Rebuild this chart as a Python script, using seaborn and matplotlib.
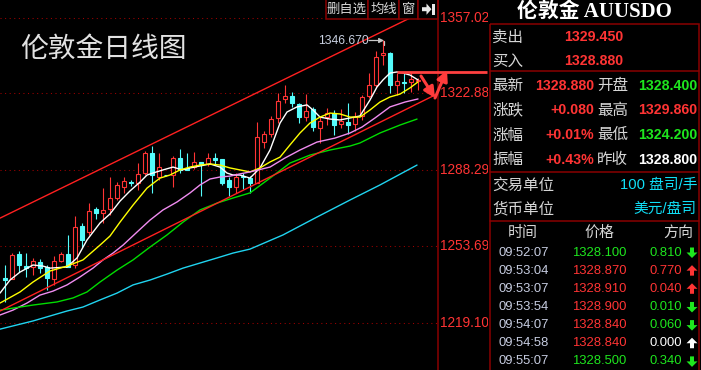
import matplotlib
matplotlib.use("Agg")
import matplotlib.pyplot as plt
import seaborn as sns
import pandas as pd
from matplotlib.patches import Rectangle, Polygon

# ------------------------------------------------------------------ data
candle_open = [1239.2, 1238.8, 1250.1, 1244.6, 1244.2, 1246.5, 1244.2, 1238.8, 1246.9, 1250.1,
               1245.1, 1262.7, 1260.0, 1270.4, 1268.6, 1270.4, 1275.4, 1280.4, 1282.6, 1282.2,
               1286.7, 1295.8, 1284.9, 1285.8, 1285.8, 1293.5, 1289.0, 1289.4, 1291.7, 1290.8,
               1293.5, 1293.0, 1283.5, 1280.4, 1285.3, 1284.4, 1282.2, 1300.7, 1304.3, 1311.6,
               1320.2, 1321.5, 1317.9, 1312.0, 1315.7, 1307.1, 1312.0, 1313.8, 1308.9, 1309.8,
               1308.9, 1312.5, 1321.5, 1326.5, 1340.1, 1341.0, 1326.5, 1327.9, 1327.9, 1328.4]
candle_close = [1238.3, 1249.6, 1245.1, 1243.7, 1246.9, 1243.7, 1239.2, 1246.9, 1250.1, 1244.2,
                1262.3, 1256.4, 1269.5, 1268.6, 1270.0, 1275.4, 1281.3, 1283.1, 1282.2, 1286.3,
                1295.8, 1285.8, 1289.4, 1285.6, 1293.5, 1288.1, 1288.1, 1291.7, 1290.3, 1293.5,
                1292.6, 1282.2, 1280.4, 1284.9, 1284.9, 1282.2, 1303.0, 1304.3, 1311.1, 1319.3,
                1321.5, 1318.4, 1312.0, 1314.7, 1307.5, 1310.2, 1313.8, 1308.4, 1310.2, 1308.4,
                1312.0, 1321.1, 1326.5, 1339.2, 1341.0, 1326.5, 1328.3, 1327.4, 1329.2, 1328.88]
candle_high = [1245.1, 1250.5, 1251.4, 1250.5, 1248.3, 1247.8, 1245.1, 1249.2, 1251.0, 1258.7,
               1267.3, 1264.1, 1273.1, 1271.3, 1279.9, 1284.9, 1282.6, 1284.9, 1283.5, 1291.2,
               1296.7, 1298.9, 1295.8, 1285.8, 1294.4, 1297.6, 1295.8, 1296.2, 1291.7, 1295.8,
               1295.8, 1293.0, 1284.9, 1286.7, 1286.7, 1285.3, 1309.8, 1305.7, 1312.5, 1322.9,
               1326.5, 1323.3, 1318.4, 1322.4, 1316.6, 1312.0, 1316.1, 1315.2, 1315.7, 1318.4,
               1314.3, 1322.0, 1331.9, 1341.9, 1346.67, 1341.4, 1331.9, 1331.9, 1331.9, 1329.86]
candle_low = [1228.4, 1238.8, 1241.9, 1239.7, 1240.6, 1241.5, 1233.8, 1236.1, 1246.5, 1244.2,
              1243.7, 1252.8, 1258.7, 1265.9, 1264.1, 1267.7, 1274.5, 1277.7, 1280.8, 1279.0,
              1285.8, 1277.7, 1283.5, 1285.3, 1280.4, 1286.7, 1288.1, 1288.5, 1276.3, 1289.9,
              1290.3, 1281.3, 1276.3, 1277.7, 1279.5, 1277.7, 1282.2, 1298.0, 1303.0, 1309.3,
              1318.4, 1316.6, 1309.3, 1310.2, 1305.7, 1300.3, 1308.4, 1303.9, 1307.1, 1304.3,
              1305.7, 1310.7, 1320.6, 1325.6, 1335.6, 1322.9, 1322.0, 1322.9, 1323.3, 1324.2]

grid_prices = [1357.026, 1322.886, 1288.292, 1253.698, 1219.103]
grid_labels = ["1357.026", "1322.886", "1288.292", "1253.698", "1219.103"]

ma5_idx = [-0.71, 0.71, 2.14, 4.0, 5.43, 6.43, 8.86, 10.29, 11.71, 13.57, 15.0, 16.43, 17.86, 19.29,
           20.29, 21.14, 22.57, 24.0, 25.29, 26.43, 27.86, 29.29, 30.71, 31.71, 32.57, 33.57, 35.0,
           36.43, 37.86, 39.29, 40.29, 41.71, 43.14, 44.0, 45.0, 46.43, 47.86, 49.29, 50.71, 52.14,
           53.14, 54.0, 55.0, 56.0, 56.86, 57.86, 59.0]
ma5_val = [1232.4, 1238.3, 1241.9, 1245.1, 1244.6, 1243.7, 1244.2, 1248.3, 1256.4, 1264.1, 1268.2,
           1274.0, 1278.6, 1282.6, 1285.8, 1286.7, 1288.1, 1289.4, 1288.1, 1289.0, 1289.9, 1290.8,
           1289.4, 1286.7, 1285.8, 1285.8, 1284.4, 1289.0, 1297.1, 1309.3, 1314.3, 1316.6, 1317.5,
           1315.2, 1312.0, 1311.1, 1310.7, 1311.6, 1312.5, 1319.7, 1325.6, 1328.8, 1331.9, 1332.4,
           1331.9, 1331.0, 1328.8]
ma10_idx = [-0.71, 2.14, 4.0, 6.43, 8.86, 11.14, 13.57, 15.0, 16.43, 18.29, 20.29, 22.14, 23.57, 25.0,
            26.43, 27.86, 29.29, 30.71, 32.14, 33.57, 35.0, 36.43, 37.86, 39.29, 40.71, 42.14, 43.57,
            45.0, 46.43, 47.86, 49.29, 50.71, 52.14, 53.57, 55.0, 56.43, 57.86, 59.0]
ma10_val = [1227.9, 1232.9, 1237.4, 1242.4, 1244.6, 1247.4, 1254.1, 1258.2, 1264.5, 1272.2, 1279.9,
            1284.4, 1285.8, 1288.1, 1289.4, 1290.3, 1290.8, 1290.3, 1289.0, 1288.1, 1287.2, 1289.0,
            1291.7, 1293.9, 1299.4, 1304.8, 1309.3, 1312.0, 1313.8, 1313.4, 1312.0, 1312.0, 1315.2,
            1318.8, 1321.1, 1322.4, 1325.2, 1327.9]
ma20_idx = [-0.71, 1.14, 3.14, 5.0, 6.86, 8.86, 10.71, 12.57, 14.0, 15.43, 16.86, 18.86, 20.71, 22.57,
            24.57, 26.43, 27.86, 29.29, 30.71, 32.14, 33.57, 35.0, 37.86, 40.0, 42.14, 44.57, 47.14,
            49.29, 51.0, 52.86, 55.0, 57.14, 59.0]
ma20_val = [1222.5, 1224.7, 1227.9, 1231.5, 1233.3, 1236.1, 1239.7, 1243.7, 1247.4, 1250.5, 1254.1,
            1260.0, 1265.4, 1270.0, 1273.6, 1277.7, 1281.3, 1284.0, 1284.9, 1285.3, 1286.3, 1287.2,
            1289.4, 1293.5, 1297.1, 1300.7, 1302.5, 1304.8, 1307.5, 1311.6, 1316.6, 1318.8, 1320.2]
ma30_idx = [-0.71, 4.0, 7.43, 9.71, 11.71, 13.57, 16.0, 18.29, 20.71, 23.14, 25.43, 27.86, 30.29,
            32.57, 35.0, 37.86, 40.71, 43.57, 46.43, 49.29, 50.71, 53.57, 56.43, 58.86]
ma30_val = [1224.7, 1227.0, 1228.4, 1230.2, 1232.9, 1237.4, 1242.8, 1247.4, 1253.2, 1258.7, 1264.5,
            1270.0, 1273.1, 1275.4, 1277.7, 1284.4, 1291.2, 1294.8, 1297.1, 1298.9, 1300.3, 1304.8,
            1308.4, 1311.1]
ma60_idx = [-0.71, 4.0, 8.86, 11.14, 13.57, 16.0, 18.29, 20.71, 23.14, 25.43, 27.86, 30.29, 32.57,
            35.0, 39.71, 44.57, 49.29, 53.57, 58.86]
ma60_val = [1216.1, 1219.8, 1224.3, 1226.1, 1229.3, 1232.4, 1236.1, 1238.3, 1241.0, 1243.7, 1246.0,
            1248.3, 1250.5, 1252.3, 1258.7, 1266.8, 1274.5, 1281.3, 1290.3]

upper_line_idx = [-0.71, 57.86]
upper_line_val = [1266.3, 1356.8]
lower_line_idx = [-0.71, 61.43]
lower_line_val = [1224.3, 1322.0]

peak_label = "1346.670"
chart_title = "伦敦金日线图"
toolbar_buttons = ["删自选", "均线", "窗"]

quote_title = "伦敦金 AUUSDO"
bid_rows = [("卖出", "1329.450"), ("买入", "1328.880")]
stat_left_labels = ["最新", "涨跌", "涨幅", "振幅"]
stat_left_values = ["1328.880", "+0.080", "+0.01%", "+0.43%"]
stat_right_labels = ["开盘", "最高", "最低", "昨收"]
stat_right_values = ["1328.400", "1329.860", "1324.200", "1328.800"]
stat_right_kind = ["down", "up", "down", "flat"]
unit_labels = ["交易单位", "货币单位"]
unit_values = ["100 盘司/手", "美元/盘司"]
tick_headers = ["时间", "价格", "方向"]
tick_times = ["09:52:07", "09:53:04", "09:53:07", "09:53:54", "09:54:07", "09:54:58", "09:55:07"]
tick_prices = [1328.100, 1328.870, 1328.910, 1328.900, 1328.840, 1328.840, 1328.500]
tick_changes = [0.810, 0.770, 0.040, 0.010, 0.060, 0.000, 0.340]
tick_dirs = ["down", "up", "up", "down", "down", "flat", "down"]
prev_close = 1328.800

# ------------------------------------------------------------------ style
sns.set_theme(style="dark")
plt.rcParams["font.family"] = ["Liberation Sans", "Noto Sans CJK SC", "DejaVu Sans"]
plt.rcParams["axes.unicode_minus"] = False

RED = "#ff3434"
CYAN_C = "#54fcfc"
GREEN = "#1ee61e"
DARKRED = "#8a0000"
TXT = "#d6d6d6"
KIND_COL = {"up": RED, "down": GREEN, "flat": "#ffffff"}

W, H = 701, 370
fig = plt.figure(figsize=(W / 100, H / 100), dpi=100, facecolor="black")

# ------------------------------------------------------------------ main chart
ax = fig.add_axes([0, 0, 437 / W, 1], zorder=0)
ax.set_facecolor("black")
ppu = (322.5 - 17.5) / (1357.026 - 1219.103)
ax.set_ylim(1322.886 - (H - 93) / ppu, 1322.886 + 93 / ppu)
ax.set_xlim(-5 / 7, (437 - 5) / 7)
for s in ax.spines.values():
    s.set_visible(False)
ax.grid(False)

for p in grid_prices:
    ax.axhline(p, color="#a00000", lw=0.75, ls=(0, (1, 3.4)), zorder=1)

idx = list(range(len(candle_open)))
cols = [RED if c >= o else CYAN_C for o, c in zip(candle_open, candle_close)]
faces = ["black" if c >= o else CYAN_C for o, c in zip(candle_open, candle_close)]
ax.vlines(idx, candle_low, candle_high, colors=cols, lw=0.8, zorder=2)
bottoms = [min(o, c) for o, c in zip(candle_open, candle_close)]
heights = [max(abs(c - o), 0.25) for o, c in zip(candle_open, candle_close)]
ax.bar(idx, heights, bottom=bottoms, width=0.62, color=faces, edgecolor=cols, lw=0.8, zorder=2.5)

ma_df = pd.concat([
    pd.DataFrame({"idx": ma5_idx, "price": ma5_val, "ma": "MA5"}),
    pd.DataFrame({"idx": ma10_idx, "price": ma10_val, "ma": "MA10"}),
    pd.DataFrame({"idx": ma20_idx, "price": ma20_val, "ma": "MA20"}),
    pd.DataFrame({"idx": ma30_idx, "price": ma30_val, "ma": "MA30"}),
    pd.DataFrame({"idx": ma60_idx, "price": ma60_val, "ma": "MA60"}),
], ignore_index=True)
ma_pal = {"MA5": "#ffffff", "MA10": "#ffff00", "MA20": "#f08cf0", "MA30": "#00dc00", "MA60": "#20d4f0"}
sns.lineplot(data=ma_df, x="idx", y="price", hue="ma", palette=ma_pal, estimator=None,
             sort=False, lw=1.0, legend=False, ax=ax, zorder=3)
trend_df = pd.concat([
    pd.DataFrame({"idx": upper_line_idx, "price": upper_line_val, "ln": "up"}),
    pd.DataFrame({"idx": lower_line_idx, "price": lower_line_val, "ln": "low"}),
], ignore_index=True)
sns.lineplot(data=trend_df, x="idx", y="price", hue="ln", palette={"up": "#ff2020", "low": "#ff2020"},
             estimator=None, sort=False, lw=1.0, legend=False, ax=ax, zorder=3)
ax.set_xlabel(""); ax.set_ylabel("")
ax.set_xticks([]); ax.set_yticks([])

for p, lab in zip(grid_prices, grid_labels):
    ax.text(440 / 437, p, lab, transform=ax.get_yaxis_transform(), color=RED, fontsize=9.8,
            va="center", ha="left", clip_on=False, zorder=5)

# ------------------------------------------------------------------ right quote panel
pn = fig.add_axes([488 / W, 0, (W - 488) / W, 1], zorder=2)
pn.set_facecolor("black")
pn.set_xlim(488, W); pn.set_ylim(H, 0)
pn.axis("off")
pn.add_patch(Rectangle((488, 0), W - 488, H, color="black", zorder=0))
pn.add_patch(Rectangle((490.5, 23.5), 208.5, 350, fill=False, ec=DARKRED, lw=1.1, zorder=1))
for yy in (71, 172, 221):
    pn.plot([490.5, 699], [yy, yy], color=DARKRED, lw=1.1, zorder=1)

pn.text(594, 11.5, quote_title, color="white", fontsize=15, fontweight="bold", ha="center",
        va="center", family=["Liberation Serif", "Noto Sans CJK SC"])

for k, (lab, val) in enumerate(bid_rows):
    y = 37 + 24 * k
    pn.text(492, y, lab, color=TXT, fontsize=11.2, va="center", ha="left")
    pn.text(623, y, val, color=RED, fontsize=10.2, fontweight="bold", va="center", ha="right")

for k in range(4):
    y = 85.5 + 24.7 * k
    pn.text(492, y, stat_left_labels[k], color=TXT, fontsize=11.2, va="center", ha="left")
    pn.text(594.5, y, stat_left_values[k], color=RED, fontsize=10.2, fontweight="bold",
            va="center", ha="right")
    pn.text(597, y, stat_right_labels[k], color=TXT, fontsize=11.2, va="center", ha="left")
    pn.text(697, y, stat_right_values[k], color=KIND_COL[stat_right_kind[k]], fontsize=10.2,
            fontweight="bold", va="center", ha="right")

for k in range(2):
    y = 185 + 24 * k
    pn.text(492, y, unit_labels[k], color=TXT, fontsize=11.2, va="center", ha="left")
    pn.text(697, y, unit_values[k], color="#10e0f8", fontsize=10.6, va="center", ha="right")

for x, lab in zip((523, 599, 678), tick_headers):
    pn.text(x, 233, lab, color=TXT, fontsize=10.8, va="center", ha="center")


def dir_arrow(cx, cy, kind):
    s = -1 if kind in ("up", "flat") else 1
    pts = [(cx - 2, cy - 5 * s), (cx + 2, cy - 5 * s), (cx + 2, cy), (cx + 5.5, cy),
           (cx, cy + 5.5 * s), (cx - 5.5, cy), (cx - 2, cy)]
    pn.add_patch(Polygon(pts, closed=True, color=KIND_COL[kind], lw=0, zorder=3))


for k in range(len(tick_times)):
    y = 252.5 + 18.15 * k
    pcol = RED if tick_prices[k] > prev_close else GREEN
    pn.text(524, y, tick_times[k], color="#c6cce0", fontsize=9.4, va="center", ha="center")
    pn.text(599, y, f"{tick_prices[k]:.3f}", color=pcol, fontsize=9.4, va="center", ha="center")
    pn.text(682, y, f"{tick_changes[k]:.3f}", color=KIND_COL[tick_dirs[k]], fontsize=9.4,
            va="center", ha="right")
    dir_arrow(692, y, tick_dirs[k])

# ------------------------------------------------------------------ overlay (toolbar, title, marks)
ov = fig.add_axes([0, 0, 1, 1], zorder=3)
ov.set_xlim(0, W); ov.set_ylim(H, 0)
ov.patch.set_alpha(0)
ov.axis("off")

ov.plot([437.5, 437.5], [0, H], color=DARKRED, lw=1.1)
ov.text(20, 48.5, chart_title, color="#e2e2e2", fontsize=20, va="center", ha="left",
        family=["Noto Sans CJK SC"], fontweight="light")

edges = [326, 368, 399, 418, 437.5]
for k in range(4):
    ov.add_patch(Rectangle((edges[k], -1), edges[k + 1] - edges[k], 19.5, fill=True, fc="black",
                           ec=DARKRED, lw=1.1))
for k, lab in enumerate(toolbar_buttons):
    ov.text((edges[k] + edges[k + 1]) / 2, 9.2, lab, color=TXT, fontsize=9.6, va="center",
            ha="center", family=["Noto Sans CJK SC"])
ov.add_patch(Polygon([(422, 7.2), (426.5, 7.2), (426.5, 3.5), (431.5, 9.2), (426.5, 14.8),
                      (426.5, 11.2), (422, 11.2)], closed=True, color="#e8e8e8", lw=0))
ov.add_patch(Rectangle((432.3, 3.5), 2.4, 11.3, color="#e8e8e8", lw=0))

# peak annotation
ov.text(318, 40.8, peak_label, color="#c8d0e0", fontsize=8.8, va="center", ha="left")
ov.annotate("", xy=(384, 40.5), xytext=(369, 40.5),
            arrowprops=dict(arrowstyle="-|>", color="#c8c8c8", lw=0.9, mutation_scale=7,
                            shrinkA=0, shrinkB=0))
ov.plot([384, 384], [40.5, 45], color="#c8c8c8", lw=0.9)

# resistance line and V arrows
ov.plot([397, 487], [71.5, 71.5], color="#ff4040", lw=2.0, solid_capstyle="butt")
ov.annotate("", xy=(435, 98), xytext=(421, 76),
            arrowprops=dict(arrowstyle="-|>", color="#ff3c3c", lw=2.2, mutation_scale=16,
                            shrinkA=0, shrinkB=0))
ov.annotate("", xy=(447, 70), xytext=(435, 98),
            arrowprops=dict(arrowstyle="-|>", color="#ff3c3c", lw=2.2, mutation_scale=16,
                            shrinkA=0, shrinkB=0))

fig.savefig("out.png", dpi=100, facecolor="black")
